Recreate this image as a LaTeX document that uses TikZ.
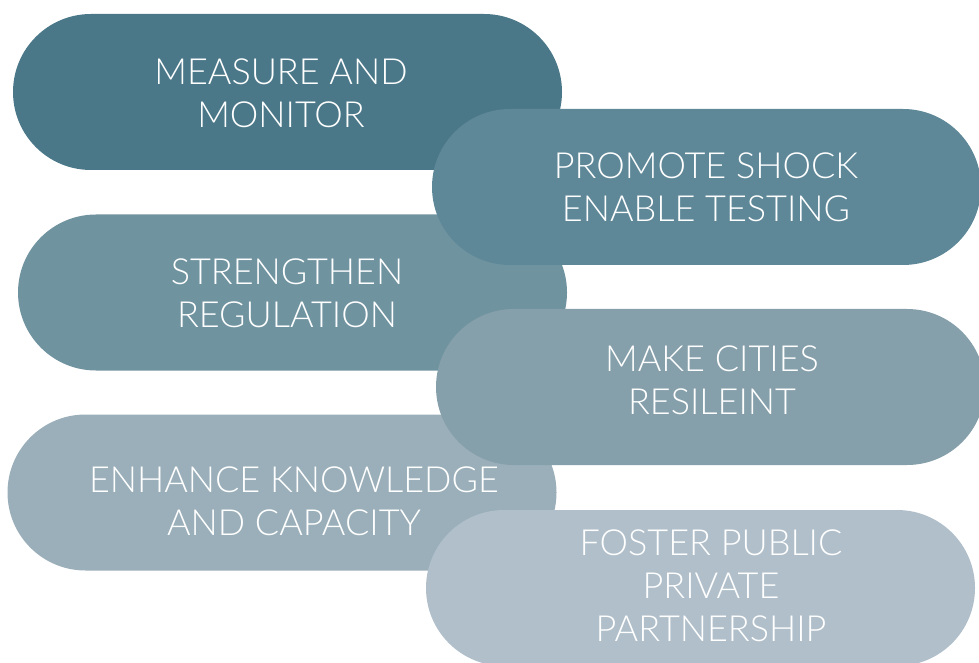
\documentclass[tikz,border=0pt]{standalone}
\usepackage{fontspec}
\setmainfont{Lato}[UprightFont={* Light}]
\usetikzlibrary{shapes.misc}
\definecolor{c1}{HTML}{4B7888}
\definecolor{c2}{HTML}{5E8797}
\definecolor{c3}{HTML}{7093A0}
\definecolor{c4}{HTML}{86A0AB}
\definecolor{c5}{HTML}{9AAFB9}
\definecolor{c6}{HTML}{B0BFCA}
\tikzset{
  pill/.style={rounded rectangle, minimum width=549pt, minimum height=156pt, inner sep=0pt, draw=none, fill=#1},
  lbl/.style={text=white, align=center, font=\fontsize{36}{43}\selectfont, inner sep=0pt}
}
\begin{document}
\begin{tikzpicture}[x=1pt,y=1pt]
\useasboundingbox (0,0) rectangle (979,662);
\node[pill=c1] (p1) at (287.5,570) {};
\node[pill=c3] (p3) at (292.5,369.5) {};
\node[pill=c5] (p5) at (282,169.5) {};
\node[pill=c2] (p2) at (706.5,475) {};
\node[pill=c4] (p4) at (710.5,275) {};
\node[pill=c6] (p6) at (700.5,74) {};
\node[lbl] (t1) at (281,569) {MEASURE AND\\MONITOR};
\node[lbl] (t2) at (706,474.5) {PROMOTE SHOCK\\ENABLE TESTING};
\node[lbl] (t3) at (287,368.5) {STRENGTHEN\\REGULATION};
\node[lbl] (t4) at (712,281.5) {MAKE CITIES\\RESILEINT};
\node[lbl] (t5) at (294,161) {ENHANCE KNOWLEDGE\\AND CAPACITY};
\node[lbl] (t6) at (711,76) {FOSTER PUBLIC\\PRIVATE\\PARTNERSHIP};
\end{tikzpicture}
\end{document}
